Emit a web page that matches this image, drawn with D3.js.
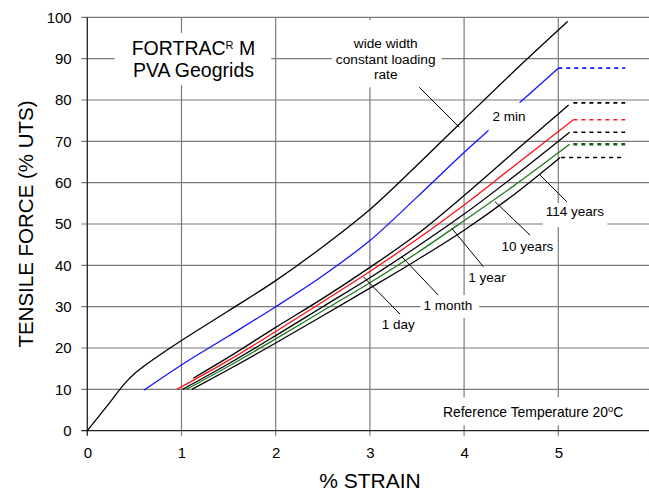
<!DOCTYPE html>
<html><head><meta charset="utf-8">
<script src="https://cdn.jsdelivr.net/npm/d3@7/dist/d3.min.js"></script>
<style>body{margin:0;background:#fff}svg{display:block;font-family:"Liberation Sans",Arial,Helvetica,sans-serif}</style>
</head><body><div id="chart"></div>
<script>
// ---- data ----
const xTicks = [0, 1, 2, 3, 4, 5, 6];
const yTicks = [0, 10, 20, 30, 40, 50, 60, 70, 80, 90, 100];

// [strain %, force % UTS]
const wideWidth = [[0,0],[0.2,5.7],[0.42,12],[0.5,13.8],[0.6,15.6],[0.8,18.8],[1.0,21.8],[1.5,29],[2.0,36.3],[2.5,44.5],[3.0,53.5],[3.5,64.2],[4.0,75.3],[4.5,86.3],[5.1,99]];
const min2     = [[0.6,9.8],[1.0,15.9],[1.5,22.9],[2.0,30],[2.5,37.5],[3.0,46],[3.5,56.5],[4.0,67.3],[4.5,77.5],[5.0,87.7]];
const day1     = [[1.125,12.7],[1.5,17.8],[2.0,25],[2.5,32],[3.0,39.5],[3.5,47.5],[4.0,56.9],[4.5,66.8],[5.11,78.8]];
const month1   = [[0.95,10],[1.5,17],[2.0,24],[2.5,31.2],[3.0,38.5],[3.5,46.3],[4.0,54.6],[4.5,63.5],[5.16,75.2]];
const year1    = [[1.01,10],[1.5,16.2],[2.0,23],[2.5,30],[3.0,37],[3.5,44.5],[4.0,52.4],[4.5,61],[5.12,72.2]];
const years10  = [[1.05,10],[1.5,15.6],[2.0,22.2],[2.5,29],[3.0,35.8],[3.5,43],[4.0,50.8],[4.5,58.8],[5.12,69.3]];
const years114 = [[1.11,10],[1.5,14.8],[2.0,21.2],[2.5,27.8],[3.0,34.5],[3.5,41.3],[4.0,48.5],[4.5,56.6],[5.02,66.1]];

// dotted plateaus: [start strain, end strain, force]
const plateaus = [
  {from:5.0,  to:5.71, v:87.7, color:"#1414ff", w:1.6},
  {from:5.16, to:5.71, v:79.3, color:"#000",    w:1.6},
  {from:5.16, to:5.71, v:75.2, color:"#ff1010", w:1.6},
  {from:5.16, to:5.71, v:72.2, color:"#000",    w:1.6},
  {from:5.16, to:5.71, v:69.3, color:"#0b5e0b", w:2.4},
  {from:5.03, to:5.71, v:66.1, color:"#000",    w:1.6}
];

const curves = [
  {d:wideWidth, color:"#000"},
  {d:min2,      color:"#1414ff"},
  {d:day1,      color:"#000"},
  {d:month1,    color:"#ff1010"},
  {d:year1,     color:"#000"},
  {d:years10,   color:"#1f7a1f"},
  {d:years114,  color:"#000"}
];

// labels: text, anchor point (data), anchor, font size, box paddings [l,t,r,b]
const labels = [
  {t:"2 min",     x:4.477, y:75.0, a:"middle", fs:13.5, pad:[4,6,2,10]},
  {t:"114 years", x:5.177, y:51.9, a:"middle", fs:13.5, pad:[3,1,3,8]},
  {t:"10 years",  x:4.673, y:43.5, a:"middle", fs:13.5, pad:[3,1,3,3]},
  {t:"1 year",    x:4.243, y:36.0, a:"middle", fs:13.5, pad:[2,1,2,2]},
  {t:"1 month",   x:3.827, y:29.2, a:"middle", fs:13.5, pad:[3,3,7,5]},
  {t:"1 day",     x:3.302, y:24.5, a:"middle", fs:13.5, pad:[2,1,2,2]}
];
const wideLines = ["wide width", "constant loading", "rate"];
const wideLineY = [92.5, 88.7, 85.0];

// leader lines [x1,y1,x2,y2] in data units
const leaders = [
  [3.524,83.07,3.949,73.4],
  [4.806,61.85,5.089,55.4],
  [4.328,55.4,4.700,47.3],
  [3.868,49.0,4.204,39.7],
  [3.338,42.1,3.726,32.8],
  [2.930,37.25,3.320,28.2]
];

// ---- chart ----
const W = 649, H = 493;
const svg = d3.select("#chart").append("svg").attr("width", W).attr("height", H);
const x = d3.scaleLinear().domain([0, 6]).range([87.3, 652.5]);
const y = d3.scaleLinear().domain([0, 100]).range([430.7, 17.3]);

const grid = svg.append("g").attr("stroke", "#7a7a7a").attr("stroke-width", 1.2);
yTicks.filter(d => d > 0).forEach(d => grid.append("line")
  .attr("x1", x(0) - 6).attr("x2", W).attr("y1", y(d)).attr("y2", y(d)));
xTicks.filter(d => d > 0).forEach(d => grid.append("line")
  .attr("x1", x(d)).attr("x2", x(d)).attr("y1", y(100)).attr("y2", y(0) + 5));

// axes lines
svg.append("line").attr("x1", x(0) - 6).attr("x2", W).attr("y1", y(0)).attr("y2", y(0)).attr("stroke", "#222").attr("stroke-width", 1.3);
svg.append("line").attr("x1", x(0)).attr("x2", x(0)).attr("y1", y(100)).attr("y2", y(0) + 5).attr("stroke", "#222").attr("stroke-width", 1.3);

// tick labels via d3 axes
svg.append("g").attr("transform", `translate(0,${y(0)})`)
  .call(d3.axisBottom(x).tickValues(xTicks).tickSize(0).tickPadding(17).tickFormat(d3.format("d")))
  .call(g => g.select(".domain").remove())
  .attr("font-size", 15).attr("font-family", null)
  .selectAll("text").attr("fill", "#000");
svg.append("g").attr("transform", `translate(${x(0)},0)`)
  .call(d3.axisLeft(y).tickValues(yTicks).tickSize(0).tickPadding(15.6).tickFormat(d3.format("d")))
  .call(g => g.select(".domain").remove())
  .attr("font-size", 15).attr("font-family", null)
  .selectAll("text").attr("fill", "#000");

// axis titles
svg.append("text").attr("x", 370).attr("y", 488.3).attr("text-anchor", "middle")
  .attr("font-size", 21).text("% STRAIN");
svg.append("text").attr("transform", "translate(33,224) rotate(-90)").attr("text-anchor", "middle")
  .attr("font-size", 20.5).text("TENSILE FORCE (% UTS)");

// curves
const line = d3.line().x(d => x(d[0])).y(d => y(d[1])).curve(d3.curveMonotoneX);
svg.append("g").selectAll("path").data(curves).join("path")
  .attr("d", c => line(c.d)).attr("fill", "none").attr("stroke", c => c.color).attr("stroke-width", 1.3);
svg.append("g").selectAll("line").data(plateaus).join("line")
  .attr("x1", p => x(p.from)).attr("x2", p => x(p.to)).attr("y1", p => y(p.v)).attr("y2", p => y(p.v))
  .attr("stroke", p => p.color).attr("stroke-width", p => p.w).attr("stroke-dasharray", "4,4");

// helper: white box behind a text group
function boxed(g, pad) {
  const b = g.node().getBBox();
  g.insert("rect", ":first-child").attr("x", b.x - pad[0]).attr("y", b.y - pad[1])
    .attr("width", b.width + pad[0] + pad[2]).attr("height", b.height + pad[1] + pad[3]).attr("fill", "#fff");
}

// title box
const tg = svg.append("g");
const t1 = tg.append("text").attr("x", x(1.127)).attr("y", y(90.9)).attr("text-anchor", "middle").attr("font-size", 19.5);
t1.append("tspan").text("FORTRAC");
t1.append("tspan").attr("font-size", 11).attr("dy", -6).text("R");
t1.append("tspan").attr("dy", 6).text(" M");
tg.append("text").attr("x", x(1.127)).attr("y", y(85.5)).attr("text-anchor", "middle").attr("font-size", 19.5).text("PVA Geogrids");
boxed(tg, [17, 4, 16, 4]);

// wide width box
const wg = svg.append("g");
wideLines.forEach((t, i) => wg.append("text").attr("x", x(3.168)).attr("y", y(wideLineY[i]))
  .attr("text-anchor", "middle").attr("font-size", 13.7).text(t));
boxed(wg, [4, 16, 6, 5]);

// curve labels
labels.forEach(l => {
  const g = svg.append("g");
  g.append("text").attr("x", x(l.x)).attr("y", y(l.y)).attr("text-anchor", l.a).attr("font-size", l.fs).text(l.t);
  boxed(g, l.pad);
});

// reference temperature
const rg = svg.append("g");
const rt = rg.append("text").attr("x", x(3.776)).attr("y", y(3.24)).attr("font-size", 13.9);
rt.append("tspan").text("Reference Temperature 20");
rt.append("tspan").attr("font-size", 9.5).attr("dy", -5).text("o");
rt.append("tspan").attr("dy", 5).text("C");
boxed(rg, [3, 6, 4, 5]);

// leader lines
svg.append("g").selectAll("line").data(leaders).join("line")
  .attr("x1", d => x(d[0])).attr("y1", d => y(d[1])).attr("x2", d => x(d[2])).attr("y2", d => y(d[3]))
  .attr("stroke", "#000").attr("stroke-width", 1);
</script></body></html>
